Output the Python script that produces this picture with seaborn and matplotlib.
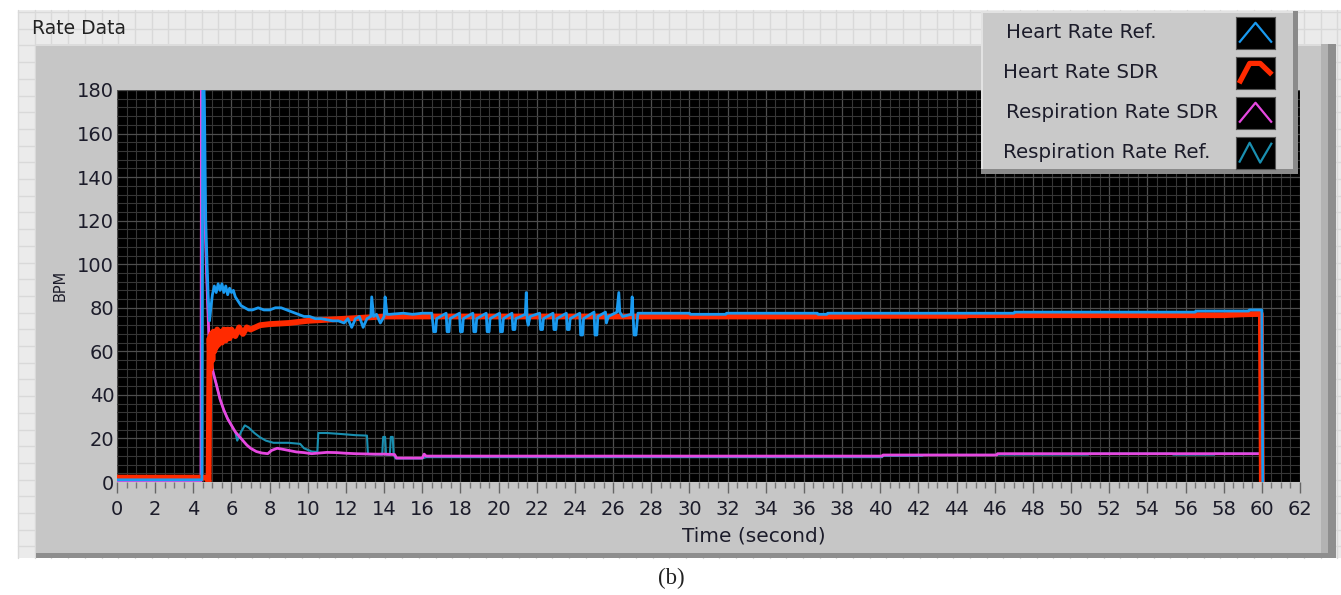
import numpy as np
import matplotlib
matplotlib.use("Agg")
import matplotlib.pyplot as plt
import seaborn as sns
from matplotlib.patches import Rectangle

# ---------------- data ----------------
hr_ref_t = [0, 4.45, 4.50, 4.58, 4.65, 4.72, 4.78, 4.85, 4.92, 5.00,
            5.10, 5.20, 5.30, 5.40, 5.50, 5.60, 5.70, 5.80, 5.90, 6.00,
            6.10, 6.20, 6.35, 6.50, 6.70, 6.90, 7.10, 7.40, 7.70, 8.00,
            8.30, 8.60, 8.90, 9.20, 9.50, 9.80, 10.10, 10.40, 10.70, 11.00,
            11.30, 11.60, 11.90, 12.10, 12.30, 12.50, 12.70, 12.90, 13.10, 13.30,
            13.35, 13.45, 13.60, 13.80, 14.00, 14.05, 14.15, 14.30, 15.00, 15.50,
            16.00, 16.50, 16.60, 16.70, 16.75, 17.25, 17.30, 17.40, 17.45, 17.95,
            18.00, 18.10, 18.15, 18.65, 18.70, 18.80, 18.85, 19.35, 19.40, 19.50,
            19.55, 20.05, 20.10, 20.20, 20.25, 20.70, 20.75, 20.85, 20.90, 21.40,
            21.45, 21.50, 21.55, 21.65, 22.15, 22.20, 22.30, 22.35, 22.85, 22.90,
            23.00, 23.05, 23.55, 23.60, 23.70, 23.75, 24.25, 24.30, 24.40, 24.45,
            25.00, 25.05, 25.15, 25.20, 25.60, 25.65, 25.75, 26.20, 26.30, 26.35,
            26.50, 26.95, 27.00, 27.05, 27.10, 27.20, 27.30, 30.00, 30.05, 31.90,
            31.95, 36.70, 36.75, 37.20, 37.25, 47.00, 47.05, 56.50, 56.55, 59.30,
            59.35, 60.00, 60.05]
hr_ref_v = [1, 1, 200, 175, 120, 100, 85, 74, 80, 86,
            90, 87, 91, 88, 91, 87, 90, 86, 89, 87,
            88, 85, 83, 81, 80, 79, 79, 80, 79, 79,
            80, 80, 79, 78, 77, 76, 76, 75, 75, 74.5,
            74, 74, 73, 75, 71, 75, 76, 71, 75, 76,
            85, 76, 77, 73, 76, 85, 77, 77, 77.5, 77,
            77.5, 77.5, 69, 69, 75, 77.5, 69, 69, 75, 77.5,
            69, 69, 75, 77.5, 69, 69, 75, 77.5, 69, 69,
            75, 77.5, 69, 69, 75, 77.5, 70, 70, 75, 77,
            87, 74, 72, 76, 77.5, 70, 70, 75, 77.5, 70,
            70, 75, 77.5, 70, 70, 75, 77.5, 67.5, 67.5, 75,
            78, 67.5, 67.5, 76, 78, 73, 76, 78, 87, 78,
            76, 77, 85, 76, 67.5, 67.5, 77.5, 77.5, 77, 77,
            77.5, 77.5, 77, 77, 77.5, 77.5, 78, 78, 78.5, 78.5,
            79, 79, 0]

hr_sdr_t = [0, 4.75, 4.80, 4.85, 4.90, 4.95, 5.00, 5.05, 5.10, 5.15,
            5.20, 5.25, 5.30, 5.40, 5.50, 5.60, 5.70, 5.80, 5.90, 6.00,
            6.20, 6.40, 6.60, 6.80, 7.00, 7.50, 8.00, 9.00, 10.0, 11.0,
            12.0, 13.0, 14.0, 16.0, 20.0, 30.0, 38.9, 38.95, 44.5, 44.55,
            58.0, 59.0, 59.95, 60.0]
hr_sdr_v = [2, 2, 0, 66, 52, 68, 56, 69, 60, 68,
            62, 70, 63, 69, 64, 70, 65, 70, 66, 70,
            67, 71, 68, 71, 70, 72, 72.5, 73, 74, 74.5,
            75, 75.5, 76, 76, 76, 76, 76, 76.3, 76.3, 76.6,
            76.6, 77, 77.2, 0]

rr_sdr_t = [0, 4.40, 4.43, 4.55, 4.62, 4.70, 4.78, 4.85, 4.95, 5.05,
            5.20, 5.40, 5.60, 5.80, 6.00, 6.20, 6.40, 6.60, 6.80, 7.00,
            7.30, 7.60, 7.90, 8.10, 8.40, 8.70, 9.00, 9.40, 9.80, 10.20,
            10.60, 11.00, 11.50, 12.00, 12.50, 13.00, 13.50, 14.00, 14.55, 14.65,
            16.00, 16.10, 16.20, 40.10, 40.15, 46.10, 46.15, 60.00, 60.05]
rr_sdr_v = [0, 0, 200, 125, 118, 95, 75, 60, 54, 50,
            45, 38, 33, 29, 26, 23, 21, 19, 17, 15.5,
            14, 13.3, 13, 14.5, 15.5, 15, 14.5, 13.8, 13.5, 13,
            13.3, 13.6, 13.5, 13.2, 13, 12.9, 12.8, 12.8, 12.6, 11.0,
            11.0, 12.8, 11.9, 11.9, 12.4, 12.4, 13.0, 13.0, 0]

rr_ref_t = [0, 4.40, 4.43, 4.55, 4.62, 4.70, 4.78, 4.85, 4.95, 5.05,
            5.20, 5.40, 5.60, 5.80, 6.00, 6.20, 6.30, 6.50, 6.70, 6.90,
            7.20, 7.50, 7.80, 8.20, 9.00, 9.60, 9.80, 10.20, 10.50, 10.55,
            11.00, 11.80, 12.50, 13.10, 13.15, 13.90, 13.95, 14.05, 14.10, 14.30,
            14.35, 14.45, 14.50, 14.60, 16.00, 16.20, 40.10, 40.15, 42.20, 42.25,
            46.10, 46.15, 50.90, 50.95, 55.30, 55.35, 57.50, 57.55, 60.00, 60.05]
rr_ref_v = [0, 0, 200, 125, 118, 95, 75, 60, 54, 50,
            45, 38, 33, 29, 26, 23, 19, 23, 26, 25,
            22.5, 20.5, 19, 18, 18, 17.5, 15.5, 14, 13.8, 22.5,
            22.5, 22, 21.5, 21.3, 12.8, 12.6, 20.7, 20.7, 12.6, 12.5,
            20.7, 20.7, 12.4, 10.8, 10.8, 11.4, 11.4, 12.0, 12.0, 12.4,
            12.4, 12.6, 12.6, 13.0, 13.0, 12.6, 12.6, 13.0, 13.0, 0]

series_names = ["Heart Rate Ref.", "Heart Rate SDR",
                "Respiration Rate SDR", "Respiration Rate Ref."]
x_ticks = list(range(0, 63, 2))
y_ticks = list(range(0, 181, 20))

# ---------------- styling ----------------
sns.set_theme(style="dark")
plt.rcParams['font.family'] = ['DejaVu Sans']

W, H = 1341, 595
fig = plt.figure(figsize=(W / 100, H / 100), dpi=100)
fig.patch.set_facecolor('white')

# background panel (LabVIEW-like front panel grid + frame)
bg = fig.add_axes([0, 0, 1, 1], zorder=0)
bg.set_xlim(0, W)
bg.set_ylim(H, 0)
bg.axis('off')
bg.add_patch(Rectangle((18, 10), W - 18, 548, fc='#ebebeb', ec='none', zorder=0.1))
for gx in np.arange(18, W, 16.7):
    bg.plot([gx, gx], [10, 558], color='#d9d9d9', lw=1, zorder=0.5)
for gy in np.arange(12, 558, 16.7):
    bg.plot([18, W], [gy, gy], color='#d9d9d9', lw=1, zorder=0.5)
bg.add_patch(Rectangle((36, 44), 1300, 514, fc='#8e8e8e', ec='none', zorder=1))
bg.add_patch(Rectangle((36, 44), 1292, 509, fc='#c6c6c6', ec='none', zorder=1.1))
bg.add_patch(Rectangle((36, 44), 1292, 2, fc='#dcdcdc', ec='none', zorder=1.2))
bg.add_patch(Rectangle((1321, 44), 7, 509, fc='#b2b2b2', ec='none', zorder=1.2))

fig.text(32 / W, 1 - 28 / H, "Rate Data", ha='left', va='center',
         fontsize=13.5, color='#222222')
fig.text(671 / W, 1 - 578 / H, "(b)", ha='center', va='center',
         fontsize=16.5, color='#222222', family=['Liberation Serif'])

# main plot
ax = fig.add_axes([117 / W, 1 - 482 / H, (1300 - 117) / W, (482 - 90) / H],
                  zorder=1)
ax.set_facecolor('black')

colors = ['#1a9af0', '#ff2a00', '#e648e0', '#1a8fb0']
widths = [2.0, 4.2, 2.0, 1.5]
orders = [5, 4, 3, 2]
data = [(hr_ref_t, hr_ref_v), (hr_sdr_t, hr_sdr_v),
        (rr_sdr_t, rr_sdr_v), (rr_ref_t, rr_ref_v)]
for (t, v), c, lw, z in zip(data, colors, widths, orders):
    sns.lineplot(x=t, y=v, ax=ax, color=c, lw=lw, zorder=z,
                 estimator=None, sort=False)

ax.set_xlim(0, 62)
ax.set_ylim(0, 180)
ax.set_xticks(x_ticks)
ax.set_xticks(np.arange(0, 62.01, 0.5), minor=True)
ax.set_yticks(y_ticks)
ax.set_yticks(np.arange(0, 180.01, 4), minor=True)
ax.set_xticklabels([str(v) for v in x_ticks])
ax.set_yticklabels([str(v) for v in y_ticks])
ax.set_axisbelow(True)
ax.grid(which='major', color='#4e4e4e', lw=0.9)
ax.grid(which='minor', color='#363636', lw=0.8)
ax.tick_params(axis='x', which='major', length=8, width=1, color='#666666',
               direction='out', pad=5, labelsize=14, labelcolor='#1c1c2a')
ax.tick_params(axis='x', which='minor', length=4, width=1, color='#777777',
               direction='out')
ax.tick_params(axis='y', which='both', length=0, pad=2, labelsize=14,
               labelcolor='#1c1c2a')
ax.tick_params(axis='x', which='both', bottom=True)
for s in ax.spines.values():
    s.set_visible(False)

ax.set_xlabel("Time (second)", fontsize=14.5, color='#1c1c2a')
ax.xaxis.set_label_coords((754 - 117) / (1300 - 117), -(527 - 482) / 392)
ax.set_ylabel("BPM", fontsize=10.5, color='#1c1c2a')
ax.yaxis.set_label_coords((68 - 117) / (1300 - 117), (482 - 285) / 392)

# legend panel (on top of the plot)
lg = fig.add_axes([0, 0, 1, 1], zorder=3)
lg.set_xlim(0, W)
lg.set_ylim(H, 0)
lg.axis('off')
lg.patch.set_alpha(0)
lg.add_patch(Rectangle((981, 11), 317, 163, fc='#8a8a8a', ec='none'))
lg.add_patch(Rectangle((981, 11), 312, 158, fc='#c9c9c9', ec='none'))
lg.add_patch(Rectangle((981, 11), 312, 2, fc='#e2e2e2', ec='none'))
lg.add_patch(Rectangle((981, 11), 2, 158, fc='#e2e2e2', ec='none'))
legend_y = [33, 73, 113, 153]
legend_x = [1006, 1003, 1006, 1003]
for name, yy, xx in zip(series_names, legend_y, legend_x):
    lg.text(xx, yy, name, ha='left', va='center',
            fontsize=14.3, color='#1c1c2a')

shapes = [([0.08, 0.5, 0.92], [0.2, 0.82, 0.2]),
          ([0.08, 0.35, 0.62, 0.92], [0.18, 0.8, 0.8, 0.45]),
          ([0.08, 0.5, 0.92], [0.2, 0.82, 0.2]),
          ([0.08, 0.35, 0.62, 0.92], [0.2, 0.82, 0.2, 0.82])]
for (sx, sy), c, lw, yy in zip(shapes, colors, widths, legend_y):
    sa = fig.add_axes([1236 / W, 1 - (yy + 16) / H, 39 / W, 32 / H], zorder=4)
    sa.set_facecolor('black')
    sa.plot(sx, sy, color=c, lw=lw * 0.9 if lw > 3 else 1.6,
            solid_capstyle='butt')
    sa.set_xlim(0, 1)
    sa.set_ylim(0, 1)
    sa.set_xticks([])
    sa.set_yticks([])
    for s in sa.spines.values():
        s.set_color('#555555')
        s.set_linewidth(0.8)

fig.savefig("out.png", dpi=100)
